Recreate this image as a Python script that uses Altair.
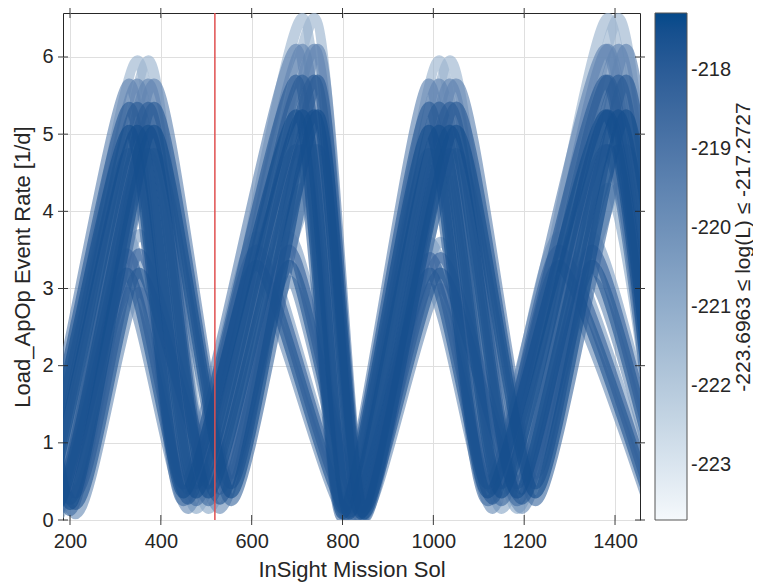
import altair as alt
import pandas as pd

# ---- data ----
# knot sols (extrema: prev peak, trough, peak, trough, ...) of each sub-family of curves
SOL_A0 = [10, 115, 330, 450, 698, 800, 990, 1120, 1380, 1500]
SOL_A1 = [40, 140, 348, 478, 712, 815, 1012, 1150, 1385, 1505]
SOL_A2 = [62, 172, 372, 505, 738, 840, 1036, 1185, 1408, 1530]
SOL_A3 = [85, 200, 385, 555, 746, 848, 1050, 1225, 1425, 1545]
SOL_B1 = [-40, 168, 325, 460, 611, 815, 992, 1130, 1277, 1485]
SOL_B2 = [20, 212, 352, 530, 683, 842, 1015, 1195, 1350, 1510]

# event-rate values at those knots, one list per curve of the family
RATE_A = [
    [6.50, 0.45, 5.95, 0.75, 6.50, 0.30, 5.95, 0.75, 6.50, 0.30],
    [6.15, 0.35, 5.65, 0.60, 6.10, 0.22, 5.65, 0.60, 6.10, 0.22],
    [5.80, 0.27, 5.35, 0.47, 5.70, 0.15, 5.35, 0.47, 5.70, 0.15],
    [5.40, 0.20, 5.05, 0.35, 5.25, 0.08, 5.05, 0.35, 5.25, 0.08],
    [4.90, 0.12, 4.75, 0.25, 4.80, 0.03, 4.75, 0.25, 4.80, 0.03],
    [4.30, 0.05, 4.40, 0.15, 4.30, 0.00, 4.40, 0.15, 4.30, 0.00],
]
RATE_B = [
    [3.70, 0.50, 3.70, 0.55, 3.67, 0.30, 3.60, 0.55, 3.67, 0.30],
    [3.50, 0.35, 3.45, 0.40, 3.50, 0.20, 3.40, 0.40, 3.50, 0.20],
    [3.30, 0.20, 3.20, 0.27, 3.30, 0.10, 3.20, 0.27, 3.30, 0.10],
    [3.05, 0.08, 2.95, 0.15, 3.10, 0.02, 3.00, 0.15, 3.10, 0.02],
]
LOGL_A = [-221.3, -219.6, -218.0, -217.5, -218.7, -220.9]
LOGL_B = [-220.6, -218.4, -217.9, -220.0]
# which curves of family A belong to the outer (earliest / latest) sub-families
OUTER_LEVELS = [1, 2, 3, 4]

RED_SOL = [519]
X_TICKS = [200, 400, 600, 800, 1000, 1200, 1400]
Y_TICKS = [0, 1, 2, 3, 4, 5, 6]
CBAR_TICKS = [-218, -219, -220, -221, -222, -223]
LOGL_MIN, LOGL_MAX = -223.6963, -217.2727
CBAR_TITLE = [f"{LOGL_MIN} ≤ log(L) ≤ {LOGL_MAX}"]

rows = []
groups = [
    ("A0", SOL_A0, RATE_A, LOGL_A, OUTER_LEVELS),
    ("A1", SOL_A1, RATE_A, LOGL_A, range(len(RATE_A))),
    ("A2", SOL_A2, RATE_A, LOGL_A, range(len(RATE_A))),
    ("A3", SOL_A3, RATE_A, LOGL_A, OUTER_LEVELS),
    ("B1", SOL_B1, RATE_B, LOGL_B, range(len(RATE_B))),
    ("B2", SOL_B2, RATE_B, LOGL_B, range(len(RATE_B))),
]
for name, sols, rates, logls, levels in groups:
    for li in levels:
        for s, r in zip(sols, rates[li]):
            rows.append({"strand": f"{name}_{li}", "sol": s, "rate": r, "logL": logls[li]})
df = pd.DataFrame(rows).sort_values("logL", kind="stable")

FONT = "Liberation Sans"
TXT = "#262626"
W, H = 577, 507
CBAR_X, CBAR_W = 592, 32

x_scale = alt.Scale(domain=[184.6, 1455], nice=False, zero=False)
y_scale = alt.Scale(domain=[0, 6.57], nice=False)
c_scale = alt.Scale(domain=[LOGL_MIN, LOGL_MAX], range=["#f5f9fc", "#04498a"])

lines = alt.Chart(df).mark_line(
    interpolate="cardinal", tension=0.35, clip=True, strokeWidth=11, opacity=0.65,
    strokeCap="round", strokeJoin="round"
).encode(
    x=alt.X("sol:Q", scale=x_scale,
            axis=alt.Axis(values=X_TICKS, format="d", title="InSight Mission Sol", grid=True,
                          domain=False, ticks=False, labelPadding=11, titlePadding=8)),
    y=alt.Y("rate:Q", scale=y_scale,
            axis=alt.Axis(values=Y_TICKS, format="d", title="Load_ApOp Event Rate [1/d]",
                          grid=True, domain=False, ticks=False, labelPadding=10,
                          titlePadding=7)),
    color=alt.Color("logL:Q", scale=c_scale, legend=alt.Legend(
        type="gradient", orient="none", legendX=CBAR_X, legendY=0, direction="vertical",
        gradientLength=H, gradientThickness=CBAR_W, gradientOpacity=1, values=CBAR_TICKS,
        labelExpr="'' + datum.value", zindex=0,
        labelFontSize=20, labelFont=FONT, labelColor=TXT, labelOffset=4,
        title="", gradientStrokeColor="#555555", gradientStrokeWidth=1)),
    detail="strand:N",
)

red = alt.Chart(pd.DataFrame({"sol": RED_SOL})).mark_rule(color="#e05050", strokeWidth=1.5).encode(
    x=alt.X("sol:Q", scale=x_scale)
)

# inward tick marks on all four sides of the box (MATLAB style)
xt = pd.DataFrame({"sol": X_TICKS})
yt = pd.DataFrame({"rate": Y_TICKS})
tick_style = dict(color=TXT, thickness=1, size=10, opacity=0.9)
ticks_bottom = alt.Chart(xt).mark_tick(**tick_style).encode(
    x=alt.X("sol:Q", scale=x_scale), y=alt.value(H))
ticks_top = alt.Chart(xt).mark_tick(**tick_style).encode(
    x=alt.X("sol:Q", scale=x_scale), y=alt.value(0))
ticks_left = alt.Chart(yt).mark_tick(**tick_style).encode(
    y=alt.Y("rate:Q", scale=y_scale, axis=None), x=alt.value(0))
ticks_right = alt.Chart(yt).mark_tick(**tick_style).encode(
    y=alt.Y("rate:Q", scale=y_scale, axis=None), x=alt.value(W))

# small ticks on the inner right edge of the colour bar
cbar_ticks = alt.Chart(pd.DataFrame({"v": CBAR_TICKS})).mark_tick(
    color="#444444", thickness=1, size=6, orient="horizontal"
).encode(
    y=alt.Y("v:Q", scale=alt.Scale(domain=[LOGL_MIN, LOGL_MAX], nice=False, zero=False),
            axis=None),
    x=alt.value(CBAR_X + CBAR_W - 3),
)

cbar_title = alt.Chart(pd.DataFrame({"t": CBAR_TITLE})).mark_text(
    angle=270, font=FONT, fontSize=21, color=TXT, align="center", baseline="middle"
).encode(text="t:N", x=alt.value(681), y=alt.value(234))

chart = alt.layer(
    lines, red, ticks_bottom, ticks_top, ticks_left, ticks_right, cbar_ticks, cbar_title
).resolve_scale(y="independent").properties(
    width=W, height=H,
    autosize=alt.AutoSizeParams(type="none"),
    padding={"left": 55, "top": 5, "right": 113, "bottom": 64},
).configure_view(stroke=TXT, strokeWidth=1).configure_axis(
    labelFont=FONT, titleFont=FONT, labelFontSize=20, titleFontSize=22,
    labelColor=TXT, titleColor=TXT, titleFontWeight="normal",
    gridColor="#dfdfdf", gridWidth=1,
)

chart.save("out.html", embed_options={"renderer": "svg", "actions": False})
